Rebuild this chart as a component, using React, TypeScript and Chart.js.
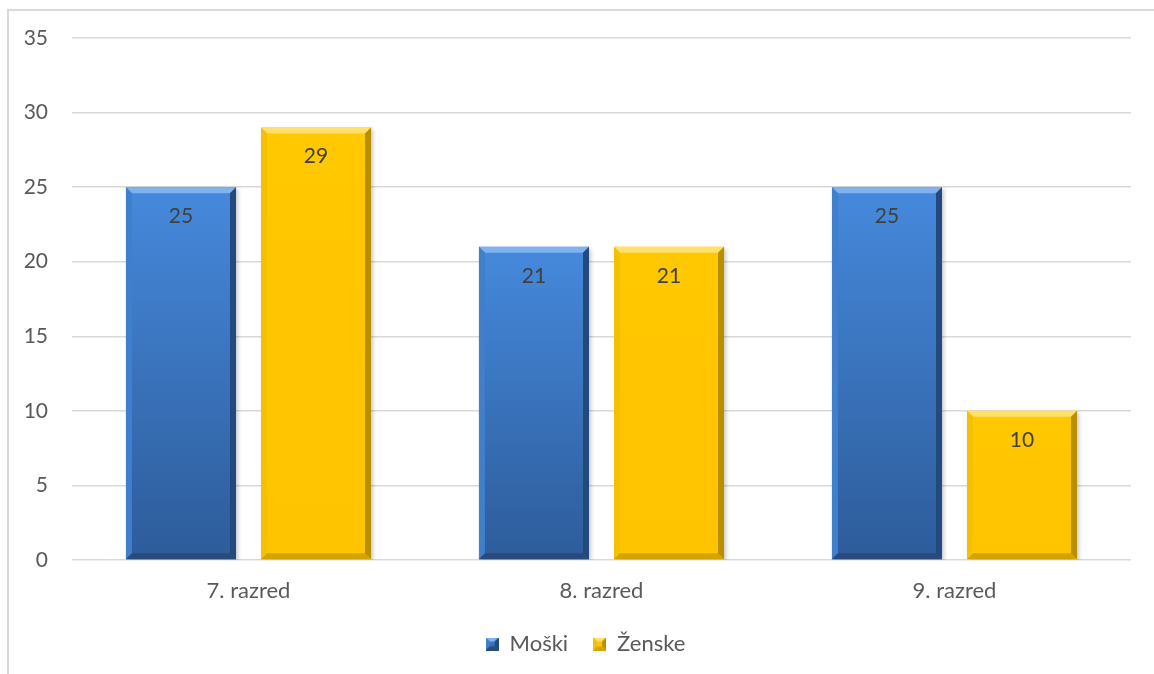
import React, { useEffect, useRef } from "react";
import { Chart, registerables } from "chart.js";

Chart.register(...registerables);

const categories = ["7. razred", "8. razred", "9. razred"];
const moski = [25, 21, 25];
const zenske = [29, 21, 10];
const seriesNames = ["Moški", "Ženske"];
const yTicks = [0, 5, 10, 15, 20, 25, 30, 35];

const FONT = "Lato, 'Open Sans', sans-serif";

type Palette = { faceTop: string; faceBottom: string; top: string; left: string; right: string; bottom: string };

const BLUE: Palette = {
  faceTop: "#4689dc",
  faceBottom: "#2d5c9a",
  top: "#7fb2ef",
  left: "#3f7fcc",
  right: "#24497c",
  bottom: "#284b7c",
};
const YELLOW: Palette = {
  faceTop: "#ffc800",
  faceBottom: "#ffc400",
  top: "#ffe06a",
  left: "#f5c000",
  right: "#b88f00",
  bottom: "#d3a300",
};

function drawBevelBox(ctx: CanvasRenderingContext2D, L: number, T: number, R: number, B: number, p: Palette, b: number) {
  const g = ctx.createLinearGradient(0, T, 0, B);
  g.addColorStop(0, p.faceTop);
  g.addColorStop(1, p.faceBottom);
  ctx.fillStyle = g;
  ctx.fillRect(L, T, R - L, B - T);
  const poly = (pts: number[][], color: string) => {
    ctx.beginPath();
    ctx.moveTo(pts[0][0], pts[0][1]);
    for (let i = 1; i < pts.length; i++) ctx.lineTo(pts[i][0], pts[i][1]);
    ctx.closePath();
    ctx.fillStyle = color;
    ctx.fill();
  };
  poly([[L, T], [R, T], [R - b, T + b], [L + b, T + b]], p.top);
  poly([[L, T], [L + b, T + b], [L + b, B - b], [L, B]], p.left);
  poly([[R, T], [R, B], [R - b, B - b], [R - b, T + b]], p.right);
  poly([[L, B], [R, B], [R - b, B - b], [L + b, B - b]], p.bottom);
}

function legendSwatch(p: Palette): HTMLCanvasElement {
  const c = document.createElement("canvas");
  c.width = 13;
  c.height = 13;
  const ctx = c.getContext("2d")!;
  drawBevelBox(ctx, 0, 0, 13, 13, p, 4);
  return c;
}

const bevelPlugin = {
  id: "bevelBars",
  afterLayout(chart: any) {
    // nudge the legend row so it is centred under the plot area
    if (chart.legend) {
      chart.legend.left += 20;
      chart.legend.right += 20;
    }
  },
  beforeDatasetsDraw(chart: any) {
    const ctx = chart.ctx;
    ctx.save();
    ctx.shadowColor = "rgba(0,0,0,0.22)";
    ctx.shadowBlur = 4;
    ctx.shadowOffsetX = 2;
    ctx.shadowOffsetY = 2;
  },
  afterDatasetsDraw(chart: any) {
    const ctx = chart.ctx;
    ctx.restore();
    chart.data.datasets.forEach((ds: any, di: number) => {
      const meta = chart.getDatasetMeta(di);
      const pal = di === 0 ? BLUE : YELLOW;
      meta.data.forEach((bar: any, i: number) => {
        const { x, y, base, width } = bar.getProps(["x", "y", "base", "width"], true);
        const L = x - width / 2;
        const R = x + width / 2;
        drawBevelBox(ctx, L, y, R, base, pal, 6);
        ctx.save();
        ctx.fillStyle = "#404040";
        ctx.font = `21px ${FONT}`;
        ctx.textAlign = "center";
        ctx.textBaseline = "middle";
        ctx.fillText(String(ds.data[i]), x, y + 29);
        ctx.restore();
      });
    });
  },
};

export default function App() {
  const ref = useRef<HTMLCanvasElement>(null);

  useEffect(() => {
    if (!ref.current) return;
    const chart = new Chart(ref.current, {
      type: "bar",
      data: {
        labels: categories,
        datasets: [
          {
            label: seriesNames[0],
            data: moski,
            backgroundColor: "rgba(255,255,255,1)",
            pointStyle: legendSwatch(BLUE) as any,
            categoryPercentage: 0.765,
            barPercentage: 0.815,
          },
          {
            label: seriesNames[1],
            data: zenske,
            backgroundColor: "rgba(255,255,255,1)",
            pointStyle: legendSwatch(YELLOW) as any,
            categoryPercentage: 0.765,
            barPercentage: 0.815,
          },
        ],
      },
      options: {
        responsive: false,
        animation: false,
        layout: { padding: { left: 0, top: 38, right: 23, bottom: 9 } },
        plugins: {
          tooltip: { enabled: false },
          legend: {
            position: "bottom",
            labels: {
              usePointStyle: true,
              boxWidth: 13,
              boxHeight: 13,
              padding: 25,
              color: "#595959",
              font: { family: FONT, size: 22 },
            },
          },
        },
        scales: {
          x: {
            grid: { display: false },
            border: { display: false },
            ticks: { color: "#595959", font: { family: FONT, size: 22 }, padding: 10 },
            afterFit: (s: any) => {
              s.height = 48;
            },
          },
          y: {
            min: 0,
            max: 35,
            afterBuildTicks: (s: any) => {
              s.ticks = yTicks.map((v) => ({ value: v }));
            },
            grid: { color: "#d9d9d9", lineWidth: 1.5, drawTicks: false },
            border: { display: false },
            ticks: { color: "#595959", font: { family: FONT, size: 21 }, padding: 24 },
            afterFit: (s: any) => {
              s.width = 72;
            },
          },
        },
      },
      plugins: [bevelPlugin],
    });
    return () => chart.destroy();
  }, []);

  return (
    <div style={{ position: "fixed", left: 0, top: 0, width: 1154, height: 674, background: "#fff", overflow: "hidden" }}>
      <div
        style={{
          position: "absolute",
          left: 7,
          top: 9,
          width: 1200,
          height: 720,
          border: "2px solid #d9d9d9",
          boxSizing: "border-box",
        }}
      />
      <canvas ref={ref} width={1154} height={674} style={{ position: "absolute", left: 0, top: 0 }} />
    </div>
  );
}
